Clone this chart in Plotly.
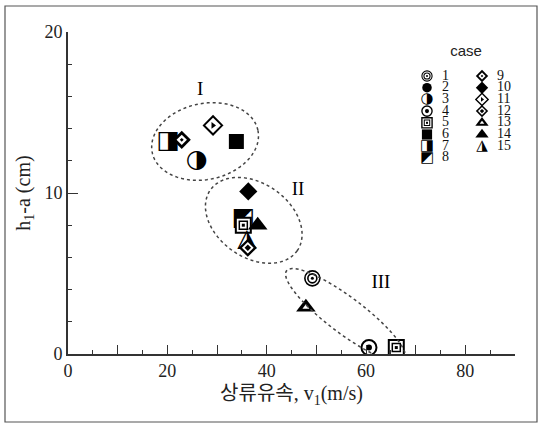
import numpy as np
import plotly.graph_objects as go

# ---- data ----
cases = list(range(1, 16))

point_case = [7, 9, 11, 6, 3, 10, 8, 5, 14, 15, 12, 1, 13, 4, 5]
point_v = [20.2, 22.9, 29.2, 33.9, 25.9, 36.3, 35.3, 35.3, 38.2, 36.0, 36.2, 49.2, 47.9, 60.6, 66.1]
point_h = [13.2, 13.3, 14.2, 13.2, 12.0, 10.1, 8.4, 8.0, 8.0, 7.1, 6.6, 4.7, 2.9, 0.4, 0.4]

group_labels = ["I", "II", "III"]
group_label_v = [26.6, 46.3, 63.0]
group_label_h = [16.4, 10.2, 4.4]

x_label_vals = [0, 20, 40, 60, 80]
x_mid_ticks = [10, 30, 50, 70, 90]
y_label_vals = [0, 10, 20]

# ellipse: centre (data), semi-axes (px), tilt (deg, screen)
ell_cv = [27.6, 37.4, 55.9]
ell_ch = [13.2, 8.3, 2.4]
ell_a = [54, 53, 74]
ell_b = [38, 37, 18]
ell_ang = [-12, 35, 37]

x_range = [0, 90]
y_range = [0, 20]

# ---- marker styles: layers of (symbol, size, fill, line width) or ("text", glyph, size) ----
K, Wt = "black", "white"
case_style = {
    1: [("circle", 15, Wt, 1.6), ("circle-open", 9, K, 1.6), ("circle", 3, K, 0)],
    2: [("circle", 14, K, 0)],
    3: [("text", "◑", 25)],
    4: [("circle", 15, Wt, 2.0), ("circle", 6, K, 0)],
    5: [("square", 15, Wt, 2.0), ("square-open", 8, K, 1.5), ("square", 3, K, 0)],
    6: [("square", 15, K, 0)],
    7: [("text", "◨", 25)],
    8: [("text", "◩", 25)],
    9: [("diamond", 14, K, 0), ("diamond", 8, Wt, 0), ("diamond", 3, K, 0)],
    10: [("diamond", 14, K, 0)],
    11: [("diamond", 14, Wt, 2.0), ("triangle-right", 6, K, 0)],
    12: [("diamond", 14, K, 0), ("diamond", 9, Wt, 0), ("diamond", 5, K, 0)],
    13: [("triangle-up", 17, K, 0), ("triangle-up", 6, Wt, 0)],
    14: [("triangle-up", 17, K, 0)],
    15: [("text", "◮", 25)],
}

W, H = 539, 424
ml, mr, mt, mb = 68, 24, 32, 70
pw, ph = W - ml - mr, H - mt - mb
kx = pw / (x_range[1] - x_range[0])
ky = ph / (y_range[1] - y_range[0])

SERIF = "Liberation Serif, DejaVu Serif, Noto Sans CJK KR, serif"
GLYPH = "DejaVu Sans"

fig = go.Figure()


def add_case(xs, ys, case, scale, xa="x", ya="y", tscale=None):
    tscale = scale if tscale is None else tscale
    for layer in case_style[case]:
        if layer[0] == "text":
            fig.add_trace(go.Scatter(
                x=xs, y=ys, mode="text", text=[layer[1]] * len(xs),
                textposition="middle center",
                textfont=dict(family=GLYPH, size=layer[2] * tscale, color=K),
                cliponaxis=False, showlegend=False, hoverinfo="skip",
                xaxis=xa, yaxis=ya))
        else:
            sym, size, fill, lw = layer
            fig.add_trace(go.Scatter(
                x=xs, y=ys, mode="markers",
                marker=dict(symbol=sym, size=size * scale, color=fill,
                            line=dict(color=K, width=lw * scale)),
                cliponaxis=False, showlegend=False, hoverinfo="skip",
                xaxis=xa, yaxis=ya))


for c, v, h in zip(point_case, point_v, point_h):
    add_case([v], [h], c, 1.0)

fig.add_trace(go.Scatter(
    x=group_label_v, y=group_label_h, mode="text", text=group_labels,
    textfont=dict(family=SERIF, size=19, color="black"),
    showlegend=False, hoverinfo="skip"))

# ellipses
shapes = []
t = np.linspace(0, 2 * np.pi, 120)
for cv, ch, a, b, ang in zip(ell_cv, ell_ch, ell_a, ell_b, ell_ang):
    th = np.deg2rad(ang)
    px = a * np.cos(t) * np.cos(th) - b * np.sin(t) * np.sin(th)
    py = a * np.cos(t) * np.sin(th) + b * np.sin(t) * np.cos(th)
    xs = cv + px / kx
    ys = ch - py / ky
    path = "M " + " L ".join(f"{x:.3f},{y:.3f}" for x, y in zip(xs, ys)) + " Z"
    shapes.append(dict(type="path", path=path, xref="x", yref="y",
                       line=dict(color="#444", width=1.5, dash="dot")))

# outer frame
shapes.append(dict(type="rect", xref="paper", yref="paper",
                   x0=(5 - ml) / pw, x1=(537 - ml) / pw,
                   y0=(H - mb - 422) / ph, y1=(H - mb - 6) / ph,
                   line=dict(color="#555", width=1.2)))

# legend (overlay axes in pixel units)
for i, c in enumerate(cases):
    col, row = divmod(i, 8)
    mxp = 427 + col * 55
    myp = 76 + row * 11.7
    add_case([mxp - ml], [H - mb - myp], c, 0.68, "x2", "y2", tscale=0.6)

num_x, num_y, num_t = [], [], []
for i, c in enumerate(cases):
    col, row = divmod(i, 8)
    num_x.append(427 + col * 55 - ml + 15)
    num_y.append(H - mb - (76 + row * 11.7))
    num_t.append(str(c))
fig.add_trace(go.Scatter(x=num_x, y=num_y, mode="text", text=num_t,
                         textposition="middle right",
                         textfont=dict(family=SERIF, size=14, color="#111"),
                         xaxis="x2", yaxis="y2", showlegend=False, hoverinfo="skip"))
fig.add_trace(go.Scatter(x=[466 - ml], y=[H - mb - 52], mode="text", text=["case"],
                         textfont=dict(family="Liberation Sans, Arial", size=15, color="#222"),
                         xaxis="x2", yaxis="y2", showlegend=False, hoverinfo="skip"))

fig.update_layout(
    width=W, height=H,
    margin=dict(l=ml, r=mr, t=mt, b=mb),
    paper_bgcolor="white", plot_bgcolor="white",
    shapes=shapes,
    xaxis=dict(range=x_range, tickvals=x_label_vals,
               ticks="inside", ticklen=9, tickwidth=1.3, tickcolor="#333",
               minor=dict(dtick=5, ticks="inside", ticklen=4, tickcolor="#333", tickwidth=1.1),
               showgrid=False, zeroline=False, showline=True, linecolor="#333", linewidth=1.6,
               tickfont=dict(family=SERIF, size=18, color="#222"),
               title=dict(text="상류유속, v<sub>1</sub>(m/s)",
                          font=dict(family=SERIF, size=20, color="#222"), standoff=6)),
    xaxis3=dict(range=x_range, overlaying="x", anchor="y", tickvals=x_mid_ticks,
                ticks="inside", ticklen=9, tickwidth=1.3, tickcolor="#333",
                showticklabels=False, showgrid=False, zeroline=False, showline=False),
    yaxis=dict(range=y_range, tickvals=y_label_vals,
               ticks="inside", ticklen=10, tickwidth=1.3, tickcolor="#333",
               minor=dict(dtick=2, ticks="inside", ticklen=4, tickcolor="#333", tickwidth=1.1),
               showgrid=False, zeroline=False, showline=True, linecolor="#333", linewidth=1.6,
               tickfont=dict(family=SERIF, size=18, color="#222"),
               title=dict(text="h<sub>1</sub>-a (cm)",
                          font=dict(family=SERIF, size=20, color="#222"), standoff=9)),
    xaxis2=dict(range=[0, pw], overlaying="x", visible=False, fixedrange=True),
    yaxis2=dict(range=[0, ph], overlaying="y", visible=False, fixedrange=True),
)
# dummy trace so the mid-tick axis is drawn
fig.add_trace(go.Scatter(x=[None], y=[None], xaxis="x3", yaxis="y",
                         showlegend=False, hoverinfo="skip"))

fig.write_html("out.html", config={"displayModeBar": False},
               post_script="document.body.style.margin='0px';")
